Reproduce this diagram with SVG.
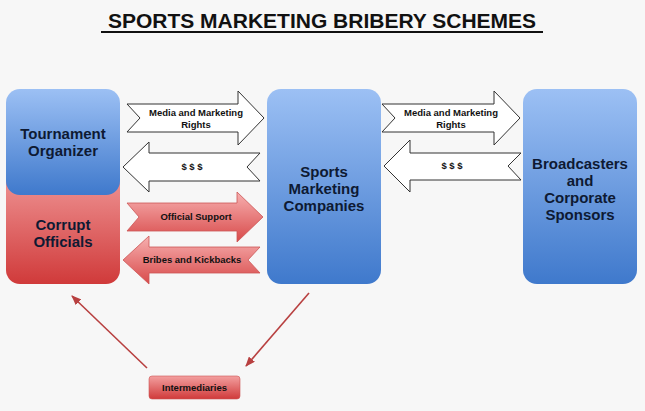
<svg xmlns="http://www.w3.org/2000/svg" width="645" height="411" viewBox="0 0 645 411">
<defs>
<linearGradient id="blue" x1="0" y1="0" x2="0" y2="1"><stop offset="0" stop-color="#9cc0f4"/><stop offset="1" stop-color="#3f79cc"/></linearGradient>
<linearGradient id="red" x1="0" y1="0" x2="0" y2="1"><stop offset="0" stop-color="#f3a0a0"/><stop offset="1" stop-color="#d03a3a"/></linearGradient>
<linearGradient id="redarr" x1="0" y1="0" x2="0" y2="1"><stop offset="0" stop-color="#f7b0b0"/><stop offset="1" stop-color="#d84a4a"/></linearGradient>
<marker id="ah" markerWidth="10" markerHeight="8" refX="9" refY="4" orient="auto" markerUnits="userSpaceOnUse"><path d="M0,0 L10,4 L0,8 z" fill="#b84040"/></marker>
</defs>
<style>
text{font-family:"Liberation Sans",Arial,sans-serif;font-weight:bold;text-anchor:middle;fill:#111}
.big{font-size:15px;fill:#0e1a33}
.sm{font-size:9.5px}
.wa{fill:#fff;stroke:#333;stroke-width:1}
.ra{fill:url(#redarr);stroke:#c55;stroke-width:0.8}
</style>
<rect width="645" height="411" fill="#f7f7f7"/>
<text x="322" y="28" style="font-size:21px">SPORTS MARKETING BRIBERY SCHEMES</text>
<line x1="101" y1="32" x2="543" y2="32" stroke="#111" stroke-width="2"/>
<g id="corrupt"><rect x="6" y="160" width="114" height="124" rx="14" fill="url(#red)"/><text class="big" x="63" y="230">Corrupt</text><text class="big" x="63" y="247">Officials</text></g>
<g id="tournament"><rect x="6" y="89" width="114" height="106" rx="14" fill="url(#blue)"/><text class="big" x="63" y="139">Tournament</text><text class="big" x="63" y="156">Organizer</text></g>
<g id="smc"><rect x="267" y="89" width="114" height="195" rx="14" fill="url(#blue)"/><text class="big" x="324" y="177">Sports</text><text class="big" x="324" y="194">Marketing</text><text class="big" x="324" y="211">Companies</text></g>
<g id="broadcasters"><rect x="523" y="89" width="114" height="195" rx="14" fill="url(#blue)"/><text class="big" x="580" y="169">Broadcasters</text><text class="big" x="580" y="186">and</text><text class="big" x="580" y="203">Corporate</text><text class="big" x="580" y="220">Sponsors</text></g>
<g id="intermediaries"><rect x="149" y="376" width="91" height="23" rx="3" fill="url(#red)" stroke="#c55" stroke-width="0.6"/><text class="sm" x="194.5" y="391">Intermediaries</text></g>
<g id="connectors">
<path class="wa" d="M127,104 H238 V91 L264,118 L238,145 V132 H127 L140,118 Z"/>
<text class="sm" x="196" y="116">Media and Marketing</text><text class="sm" x="196" y="128">Rights</text>
<path class="wa" d="M260,153 H149 V142 L123,167 L149,192 V181 H260 L247,167 Z"/>
<text class="sm" x="192" y="170">$ $ $</text>
<path class="ra" d="M127,203 H237 V192 L263,217 L237,242 V231 H127 L139,217 Z"/>
<text class="sm" x="196" y="220">Official Support</text>
<path class="ra" d="M260,247 H149 V236 L123,260 L149,284 V273 H260 L248,260 Z"/>
<text class="sm" x="192" y="263">Bribes and Kickbacks</text>
<path class="wa" d="M382,104 H494 V91 L520,118 L494,145 V132 H382 L395,118 Z"/>
<text class="sm" x="451" y="116">Media and Marketing</text><text class="sm" x="451" y="128">Rights</text>
<path class="wa" d="M521,153 H410 V140 L384,166 L410,192 V180 H521 L508,166 Z"/>
<text class="sm" x="452" y="169">$ $ $</text>
<line x1="147" y1="368" x2="72" y2="296" stroke="#b84040" stroke-width="1.6" marker-end="url(#ah)"/>
<line x1="309" y1="293" x2="246" y2="366" stroke="#b84040" stroke-width="1.6" marker-end="url(#ah)"/>
</g>
</svg>
